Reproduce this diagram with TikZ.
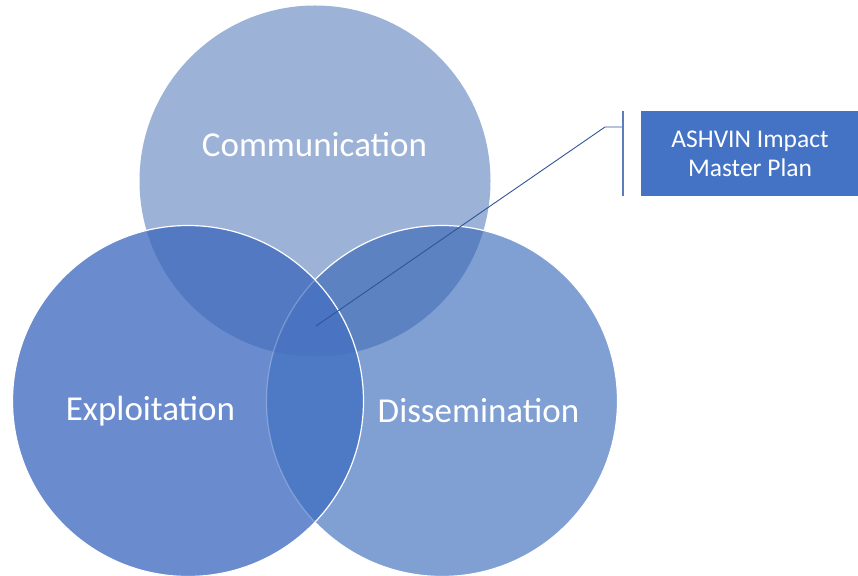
\documentclass[tikz,border=0pt]{standalone}
\usepackage{fontspec}
\setmainfont{Carlito}
\definecolor{cComm}{HTML}{9DB2D7}
\definecolor{cExpl}{HTML}{6A8BCE}
\definecolor{cDiss}{HTML}{809FD3}
\definecolor{cCE}{HTML}{5479C3}
\definecolor{cCD}{HTML}{5C82C2}
\definecolor{cED}{HTML}{4E7AC5}
\definecolor{cCED}{HTML}{4A74C2}
\definecolor{cBox}{HTML}{4472C4}
\definecolor{cLine}{HTML}{2F5597}
\definecolor{cBracket}{HTML}{5B7DB8}
\begin{document}
\begin{tikzpicture}[x=1pt,y=1pt,
  lbl/.style={text=white,font=\fontsize{35}{40}\selectfont},
  boxlbl/.style={text=white,font=\fontsize{25.5}{29}\selectfont,align=center},
  leader/.style={draw=cLine,line width=0.9pt},
  bracketline/.style={draw=cBracket,line width=1.4pt}]
\useasboundingbox (0,0) rectangle (858,575);
\def\R{175.5}
\def\commpath{(315,394) circle (\R)}
\def\explpath{(188,174) circle (\R)}
\def\disspath{(442,174) circle (\R)}
% Communication
\fill[cComm] \commpath;
% Dissemination
\fill[cDiss] \disspath;
\begin{scope}\clip \commpath; \fill[cCD] \disspath; \end{scope}
\draw[white,line width=1.2pt] \disspath;
% Exploitation
\fill[cExpl] \explpath;
\begin{scope}\clip \commpath; \fill[cCE] \explpath; \end{scope}
\begin{scope}\clip \disspath; \fill[cED] \explpath; \end{scope}
\begin{scope}\clip \disspath; \clip \commpath; \fill[cCED] \explpath; \end{scope}
\begin{scope}\clip \explpath; \draw[white,opacity=0.25,line width=1.2pt] \disspath; \end{scope}
\draw[white,line width=1.2pt] \explpath;
% labels
\node[lbl] (comm) at (314.5,430) {Communication};
\node[lbl] (expl) at (150.5,164) {Exploitation};
\node[lbl] (diss) at (478.5,164) {Dissemination};
% callout
\node[fill=cBox,minimum width=220pt,minimum height=85pt,anchor=south west,inner sep=0pt] (box) at (641,379) {};
\node[boxlbl] (boxtext) at (750,421.5) {ASHVIN Impact\\Master Plan};
\coordinate (cen) at (316,249);
\coordinate (knee) at (605,448);
\coordinate (tick) at (623,448);
\coordinate (btop) at (623,464);
\coordinate (bbot) at (623,379);
\draw[leader] (cen) -- (knee) -- (tick);
\draw[bracketline] (btop) -- (bbot);
\end{tikzpicture}
\end{document}
